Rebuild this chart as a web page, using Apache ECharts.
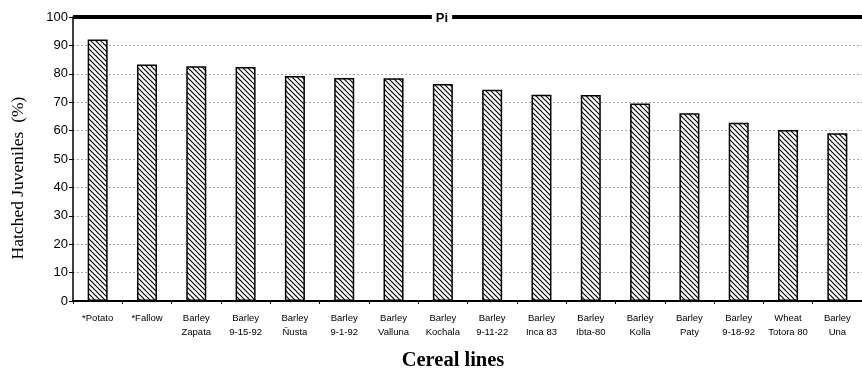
<!DOCTYPE html>
<html>
<head>
<meta charset="utf-8">
<script src="https://cdn.jsdelivr.net/npm/echarts@6/dist/echarts.min.js"></script>
<style>
  html, body { margin: 0; padding: 0; background: #fff; }
  #chart { width: 862px; height: 370px; }
</style>
</head>
<body>
<div id="chart"></div>
<script>
// Cereal lines (two-line category labels)
const categories = [
  '*Potato', '*Fallow', 'Barley\nZapata', 'Barley\n9-15-92', 'Barley\nÑusta',
  'Barley\n9-1-92', 'Barley\nValluna', 'Barley\nKochala', 'Barley\n9-11-22',
  'Barley\nInca 83', 'Barley\nIbta-80', 'Barley\nKolla', 'Barley\nPaty',
  'Barley\n9-18-92', 'Wheat\nTotora 80', 'Barley\nUna'
];
// Hatched juveniles (%)
const hatched = [92.1, 83.3, 82.7, 82.4, 79.2, 78.5, 78.4, 76.4, 74.4, 72.6, 72.5, 69.5, 66.1, 62.8, 60.2, 59.1];
const yTicks = { min: 0, max: 100, interval: 10 };
const refLabel = 'Pi';
const xTitle = 'Cereal lines';
const yTitle = 'Hatched Juveniles  (%)';

// diagonal hatch fill for the bars
function hatchPattern() {
  const s = 5;
  const c = document.createElement('canvas');
  c.width = s; c.height = s;
  const g = c.getContext('2d');
  g.fillStyle = '#fff';
  g.fillRect(0, 0, s, s);
  g.strokeStyle = '#000';
  g.lineWidth = 1.2;
  g.beginPath();
  g.moveTo(-1, -1); g.lineTo(s + 1, s + 1);
  g.moveTo(-s - 1, -1); g.lineTo(1, s + 1);
  g.moveTo(s - 1, -1); g.lineTo(2 * s + 1, s + 1);
  g.stroke();
  return c;
}

const chart = echarts.init(document.getElementById('chart'));
chart.setOption({
  animation: false,
  backgroundColor: '#fff',
  grid: { left: 73, right: 0, top: 17, bottom: 69 },
  xAxis: {
    type: 'category',
    data: categories,
    axisLine: { lineStyle: { color: '#000', width: 2 } },
    axisTick: { show: true, alignWithLabel: false, length: 3, lineStyle: { color: '#000', width: 1 } },
    axisLabel: {
      interval: 0,
      margin: 10,
      fontFamily: 'Liberation Sans',
      fontSize: 9.5,
      lineHeight: 14,
      color: '#000'
    }
  },
  yAxis: {
    type: 'value',
    min: yTicks.min,
    max: yTicks.max,
    interval: yTicks.interval,
    axisLine: { show: true, lineStyle: { color: '#000', width: 1.5 } },
    axisTick: { show: true, length: 4, lineStyle: { color: '#000' } },
    axisLabel: { fontFamily: 'Liberation Sans', fontSize: 13, color: '#000', margin: 5 },
    splitLine: { show: true, lineStyle: { color: '#aaa', type: [2, 2], width: 1 } }
  },
  graphic: [
    {
      type: 'text',
      x: 18, y: 178,
      rotation: Math.PI / 2,
      style: {
        text: yTitle,
        font: '17.5px "Liberation Serif"',
        fill: '#000',
        align: 'center',
        verticalAlign: 'middle'
      }
    },
    {
      type: 'text',
      x: 453, y: 361,
      style: {
        text: xTitle,
        font: 'bold 20.5px "Liberation Serif"',
        fill: '#000',
        align: 'center',
        verticalAlign: 'middle'
      }
    },
    {
      type: 'text',
      x: 442, y: 18,
      z: 100,
      style: {
        text: refLabel,
        font: 'bold 13px "Liberation Sans"',
        fill: '#000',
        backgroundColor: '#fff',
        padding: [1, 4],
        align: 'center',
        verticalAlign: 'middle'
      }
    }
  ],
  series: [{
    type: 'bar',
    data: hatched,
    barWidth: 20,
    itemStyle: {
      color: { image: hatchPattern(), repeat: 'repeat' },
      borderColor: '#000',
      borderWidth: 1.5
    },
    markLine: {
      silent: true,
      symbol: 'none',
      lineStyle: { color: '#000', width: 4, type: 'solid' },
      label: { show: false },
      data: [{ yAxis: 100 }]
    }
  }]
});
</script>
</body>
</html>
